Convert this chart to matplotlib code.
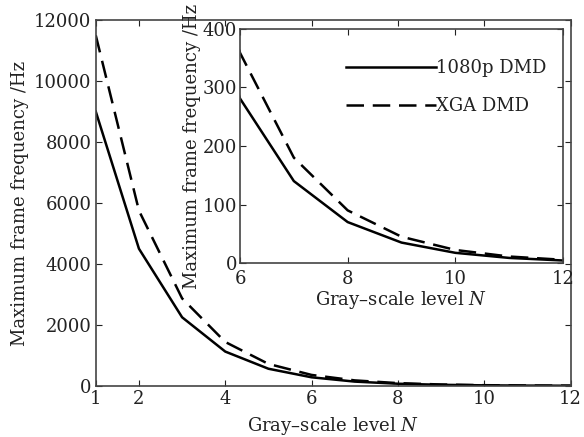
import matplotlib
matplotlib.use('Agg')
import matplotlib.pyplot as plt

plt.rcParams.update({'font.family': 'DejaVu Serif', 'font.size': 13,
                     'mathtext.fontset': 'dejavuserif'})

N = [1, 2, 3, 4, 5, 6, 7, 8, 9, 10, 11, 12]
f_1080p = [9000, 4500, 2250, 1125, 562, 281, 140, 70, 35, 17.5, 8.8, 4.4]
f_xga = [11500, 5750, 2870, 1440, 720, 359, 180, 90, 45, 22.4, 11.2, 5.6]

main_xticks = [1, 2, 4, 6, 8, 10, 12]
main_yticks = [0, 2000, 4000, 6000, 8000, 10000, 12000]
inset_xticks = [6, 8, 10, 12]
inset_yticks = [0, 100, 200, 300, 400]

txt = '#222222'
dash = (0, (7, 3.5))

fig = plt.figure(figsize=(5.84, 4.37), dpi=100)
ax = fig.add_axes([0.164, 0.117, 0.813, 0.837])
ax.plot(N, f_1080p, color='k', lw=1.8)
ax.plot(N, f_xga, color='k', lw=1.8, linestyle=dash)
ax.set_xlim(1, 12)
ax.set_ylim(0, 12000)
ax.set_xticks(main_xticks)
ax.set_yticks(main_yticks)
ax.tick_params(direction='in', top=True, right=True, colors=txt, length=4)
ax.tick_params(axis='x', pad=3)
ax.tick_params(axis='y', pad=3)
ax.set_xlabel('Gray\u2013scale level $N$', color=txt, labelpad=5)
ax.set_ylabel('Maximum frame frequency /Hz', color=txt, labelpad=4)
for s in ax.spines.values():
    s.set_color('#444444')
    s.set_linewidth(1.2)

# inset zoom on N = 6..12
ins = fig.add_axes([0.411, 0.398, 0.553, 0.536])
ins.plot(N, f_1080p, color='k', lw=1.8, label='1080p DMD')
ins.plot(N, f_xga, color='k', lw=1.8, linestyle=dash, label='XGA DMD')
ins.set_xlim(6, 12)
ins.set_ylim(0, 400)
ins.set_xticks(inset_xticks)
ins.set_yticks(inset_yticks)
ins.tick_params(direction='in', top=True, right=True, colors=txt, length=4)
ins.tick_params(axis='x', pad=5)
ins.tick_params(axis='y', pad=2)
ins.set_xlabel('Gray\u2013scale level $N$', color=txt, labelpad=1)
ins.set_ylabel('Maximum frame frequency /Hz', color=txt, labelpad=1)
for s in ins.spines.values():
    s.set_color('#444444')
    s.set_linewidth(1.2)
leg = ins.legend(loc='upper right', frameon=False, handlelength=5.0,
                 handletextpad=0.0, labelspacing=1.1, bbox_to_anchor=(1.0, 0.94))
for t in leg.get_texts():
    t.set_color(txt)

fig.savefig('out.png', dpi=100)
